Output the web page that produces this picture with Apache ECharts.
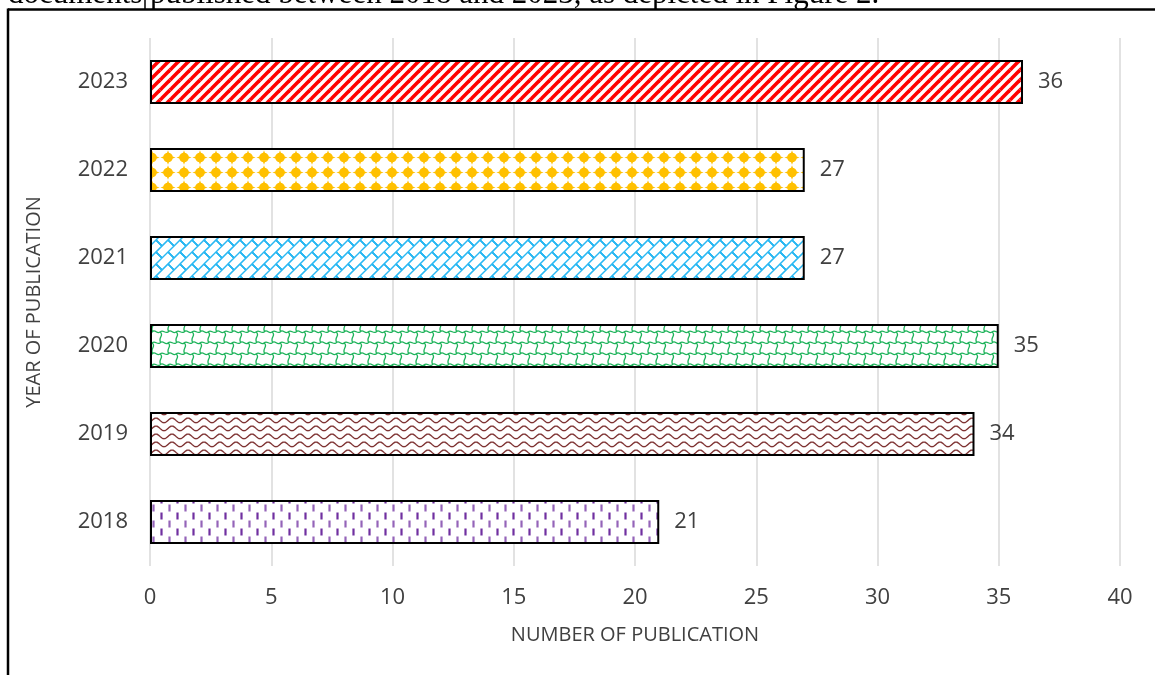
<!DOCTYPE html>
<html>
<head>
<meta charset="utf-8">
<script src="https://cdn.jsdelivr.net/npm/echarts@6/dist/echarts.min.js"></script>
<style>
html,body{margin:0;padding:0;background:#fff;}
#chart{width:1155px;height:675px;}
</style>
</head>
<body>
<div id="chart"></div>
<script>
// ---- data ----
const years = ['2018', '2019', '2020', '2021', '2022', '2023'];
const publications = [21, 34, 35, 27, 27, 36];
const xMin = 0, xMax = 40, xStep = 5;
const xTitle = 'NUMBER OF PUBLICATION';
const yTitle = 'YEAR OF PUBLICATION';
const captionText = 'documents published between 2018 and 2023, as depicted in Figure 2.';

// ---- pattern tiles (style only) ----
function tile(w, h, draw) {
  const c = document.createElement('canvas');
  c.width = w; c.height = h;
  const ctx = c.getContext('2d');
  ctx.fillStyle = '#fff';
  ctx.fillRect(0, 0, w, h);
  for (let dx = -w; dx <= w; dx += w) {
    for (let dy = -h; dy <= h; dy += h) {
      ctx.save();
      ctx.translate(dx, dy);
      draw(ctx);
      ctx.restore();
    }
  }
  return c;
}
const patRed = tile(10, 10, ctx => {
  ctx.strokeStyle = '#ff0000'; ctx.lineWidth = 3.6;
  ctx.beginPath();
  ctx.moveTo(10, 0); ctx.lineTo(0, 10);
  ctx.stroke();
});
const patGold = tile(16, 15, ctx => {
  ctx.fillStyle = '#ffc000';
  const cx = 8, cy = 7.5;
  ctx.beginPath(); ctx.arc(cx, cy, 4.8, 0, Math.PI * 2); ctx.fill();
  ctx.beginPath();
  ctx.moveTo(cx, cy - 7.3); ctx.lineTo(cx + 2.6, cy); ctx.lineTo(cx, cy + 7.3); ctx.lineTo(cx - 2.6, cy); ctx.closePath(); ctx.fill();
  ctx.beginPath();
  ctx.moveTo(cx - 7.6, cy); ctx.lineTo(cx, cy + 2.6); ctx.lineTo(cx + 7.6, cy); ctx.lineTo(cx, cy - 2.6); ctx.closePath(); ctx.fill();
});
const patBlue = tile(24, 24, ctx => {
  ctx.strokeStyle = '#2ab8f2'; ctx.lineWidth = 1.1;
  ctx.beginPath();
  for (let k = 0; k <= 4; k++) { ctx.moveTo(12 * k, 0); ctx.lineTo(12 * k - 24, 24); }
  for (let n = -1; n <= 4; n++) {
    const c = (n % 2 === 0) ? 0 : 12;
    for (let m = -2; m <= 2; m++) {
      const v = c + 24 * m;
      const u1 = 12 * n, u2 = 12 * n + 12;
      ctx.moveTo((u1 + v) / 2, (u1 - v) / 2);
      ctx.lineTo((u2 + v) / 2, (u2 - v) / 2);
    }
  }
  ctx.stroke();
});
const patGreen = tile(16, 22, ctx => {
  ctx.strokeStyle = '#1db35a'; ctx.lineWidth = 1.3;
  ctx.beginPath();
  const cells = [[0, 0], [8, 11]];
  cells.forEach(([x, y]) => {
    ctx.moveTo(x - 8, y + 2);
    ctx.bezierCurveTo(x - 5, y - 2, x - 3, y + 5, x, y + 2);
    ctx.bezierCurveTo(x + 3, y - 1, x + 5, y + 4, x + 8, y + 2);
    ctx.moveTo(x, y + 2);
    ctx.bezierCurveTo(x + 5, y + 5, x - 3, y + 8, x + 1, y + 13);
  });
  ctx.stroke();
});
const patBrown = tile(16, 8.8, ctx => {
  ctx.strokeStyle = '#7f3434'; ctx.lineWidth = 1.4;
  ctx.beginPath();
  for (let x = 0; x <= 16; x += 0.5) {
    const y = 4.4 + 2.3 * Math.sin((x / 16) * Math.PI * 2);
    if (x === 0) ctx.moveTo(x, y); else ctx.lineTo(x, y);
  }
  ctx.stroke();
});
const patPurple = tile(16, 16, ctx => {
  ctx.lineWidth = 2.2;
  ctx.strokeStyle = '#7030a0';
  ctx.beginPath();
  ctx.moveTo(1.5, 0.5); ctx.lineTo(1.5, 7.5);
  ctx.stroke();
  ctx.strokeStyle = 'rgba(112,48,160,0.75)';
  ctx.beginPath();
  ctx.moveTo(9.5, 8.5); ctx.lineTo(9.5, 15.5);
  ctx.stroke();
});
const patterns = [patPurple, patBrown, patGreen, patBlue, patGold, patRed];

const barData = publications.map((v, i) => ({
  value: v,
  itemStyle: { color: { image: patterns[i], repeat: 'repeat' } }
}));

const FONT = 'Open Sans';
const TXT = '#404040';

const chart = echarts.init(document.getElementById('chart'), null, { renderer: 'canvas' });
chart.setOption({
  backgroundColor: '#fff',
  animation: false,
  grid: { left: 150, right: 35, top: 38, bottom: 109, containLabel: false },
  xAxis: {
    type: 'value', min: xMin, max: xMax, interval: xStep,
    axisLine: { show: false }, axisTick: { show: false },
    splitLine: { show: true, lineStyle: { color: '#d9d9d9', width: 1.5 } },
    axisLabel: { color: TXT, fontFamily: FONT, fontSize: 22, margin: 21 },
    name: xTitle, nameLocation: 'middle', nameGap: 59,
    nameTextStyle: { color: TXT, fontFamily: FONT, fontSize: 20 }
  },
  yAxis: {
    type: 'category', data: years,
    axisLine: { show: false }, axisTick: { show: false },
    axisLabel: { color: TXT, fontFamily: FONT, fontSize: 22, margin: 22 },
    name: yTitle, nameLocation: 'middle', nameGap: 106, nameRotate: 90,
    nameTextStyle: { color: TXT, fontFamily: FONT, fontSize: 20 }
  },
  series: [{
    type: 'bar', data: barData, barWidth: '50%',
    itemStyle: { borderColor: '#000', borderWidth: 2 },
    label: { show: true, position: 'right', distance: 15, color: TXT, fontFamily: FONT, fontSize: 22 }
  }],
  graphic: [
    { type: 'text', x: 8, y: -5,
      style: { text: captionText, font: '31px "Liberation Serif", "Times New Roman", serif', fill: '#000',
               verticalAlign: 'middle', align: 'left' } },
    { type: 'line', shape: { x1: 8, y1: 9.5, x2: 1160, y2: 9.5 }, style: { stroke: '#000', lineWidth: 2.5 } },
    { type: 'line', shape: { x1: 8, y1: 8.5, x2: 8, y2: 680 }, style: { stroke: '#000', lineWidth: 2.5 } },
    { type: 'line', shape: { x1: 145, y1: -2, x2: 145, y2: 9 }, style: { stroke: '#000', lineWidth: 1.5 } }
  ]
});
</script>
</body>
</html>
